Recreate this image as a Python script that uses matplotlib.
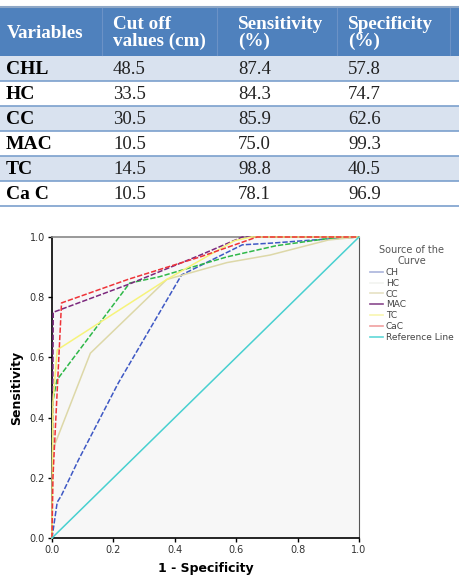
import matplotlib
matplotlib.use('Agg')
from matplotlib import pyplot as plt
from matplotlib.lines import Line2D
from matplotlib.patches import Rectangle

# table data
variables = ['CHL', 'HC', 'CC', 'MAC', 'TC', 'Ca C']
cutoffs = ['48.5', '33.5', '30.5', '10.5', '14.5', '10.5']
sensitivity = ['87.4', '84.3', '85.9', '75.0', '98.8', '78.1']
specificity = ['57.8', '74.7', '62.6', '99.3', '40.5', '96.9']
headers = ['Variables', 'Cut off\nvalues (cm)', 'Sensitivity\n(%)', 'Specificity\n(%)']

# ROC curves (1 - specificity, sensitivity)
ch_x = [0, 0.017, 0.03, 0.086, 0.216, 0.422, 0.62, 0.72, 0.85, 1.0]
ch_y = [0, 0.119, 0.14, 0.259, 0.515, 0.874, 0.974, 0.98, 0.99, 1.0]
hc_x = [0, 0.002, 0.016, 0.253, 0.35, 0.57, 0.73, 0.9, 1.0]
hc_y = [0, 0.45, 0.525, 0.847, 0.868, 0.934, 0.971, 0.995, 1.0]
cc_x = [0, 0.002, 0.125, 0.374, 0.57, 0.71, 0.9, 1.0]
cc_y = [0, 0.292, 0.614, 0.859, 0.915, 0.94, 0.99, 1.0]
mac_x = [0, 0.004, 0.007, 0.25, 0.483, 0.62, 1.0]
mac_y = [0, 0.75, 0.751, 0.843, 0.94, 1.0, 1.0]
tc_x = [0, 0.003, 0.017, 0.374, 0.595, 0.65, 1.0]
tc_y = [0, 0.45, 0.625, 0.859, 0.988, 1.0, 1.0]
cac_x = [0, 0.003, 0.031, 0.25, 0.483, 0.668, 1.0]
cac_y = [0, 0.2, 0.781, 0.86, 0.934, 1.0, 1.0]
ref_x = [0, 1]
ref_y = [0, 1]

curve_names = ['CH', 'HC', 'CC', 'MAC', 'TC', 'CaC', 'Reference Line']
curve_colors = ['#3e58c4', '#2eb848', '#ddd8a8', '#7c287d', '#f6f37a', '#ef3338', '#48d0d0']
legend_colors = ['#aab4dc', '#f2f4f0', '#e6e2c4', '#8a4a8e', '#f8f6b0', '#f0a0a0', '#60d8d8']
curve_styles = [(0, (3.5, 1.3)), (0, (3.5, 1.3)), '-', (0, (3.5, 1.3)), '-', (0, (3.5, 1.3)), '-']

fig = plt.figure(figsize=(4.59, 5.77), dpi=100)

# ---- table drawn in pixel coords ----
W, H = 459, 577
tab = fig.add_axes([0, 1 - 210 / H, 1, 210 / H])
tab.set_xlim(0, W)
tab.set_ylim(210, 0)
tab.axis('off')

head_blue = '#4f81bd'
light_row = '#d9e2ef'
line_blue = '#7ba0cd'
col_x = [7, 113, 238, 348]
serif = 'Liberation Serif'

tab.add_patch(Rectangle((0, 7), W, 49, facecolor=head_blue, edgecolor='none'))
tab.plot([0, W], [7, 7], color='#8ea7c6', lw=1.5)
for vx in [102, 217, 337, 450]:
    tab.plot([vx, vx], [8, 55], color='#6b92c6', lw=0.8)
for j, h in enumerate(headers):
    tab.text(col_x[j], 33, h, color='white', fontsize=13.8, fontweight='bold',
             family=serif, va='center', ha='left', linespacing=1.05)

row_h = 25
for i in range(len(variables)):
    y0 = 56 + i * row_h
    if i % 2 == 0:
        tab.add_patch(Rectangle((0, y0), W, row_h, facecolor=light_row, edgecolor='none'))
    tab.plot([0, W], [y0 + row_h, y0 + row_h], color=line_blue, lw=1.2)
    yc = y0 + row_h / 2 + 1
    tab.text(col_x[0] - 1, yc, variables[i], fontsize=14, fontweight='bold',
             family=serif, va='center', color='black')
    tab.text(col_x[1], yc, cutoffs[i], fontsize=13.5, family=serif, va='center', color='#222222')
    tab.text(col_x[2], yc, sensitivity[i], fontsize=13.5, family=serif, va='center', color='#222222')
    tab.text(col_x[3], yc, specificity[i], fontsize=13.5, family=serif, va='center', color='#222222')

# ---- ROC chart ----
ax = fig.add_axes([52 / W, 1 - 538 / H, 307 / W, 301 / H])
ax.set_facecolor('#f7f7f7')
xs = [ch_x, hc_x, cc_x, mac_x, tc_x, cac_x, ref_x]
ys = [ch_y, hc_y, cc_y, mac_y, tc_y, cac_y, ref_y]
for x, y, c, ls in zip(xs, ys, curve_colors, curve_styles):
    ax.plot(x, y, color=c, lw=1.1, linestyle=ls, clip_on=False, zorder=3)

ax.set_xlim(0, 1)
ax.set_ylim(0, 1)
ticks = [0.0, 0.2, 0.4, 0.6, 0.8, 1.0]
ax.set_xticks(ticks)
ax.set_yticks(ticks)
ax.set_xticklabels(['%.1f' % t for t in ticks], fontsize=7, color='#333333')
ax.set_yticklabels(['%.1f' % t for t in ticks], fontsize=7, color='#333333')
ax.tick_params(direction='out', length=3, width=1, color='black', pad=2)
ax.spines['left'].set_linewidth(1.2)
ax.spines['bottom'].set_linewidth(1.2)
ax.spines['top'].set_color('#888888')
ax.spines['top'].set_linewidth(1.2)
ax.spines['right'].set_color('#555555')
ax.spines['right'].set_linewidth(0.8)
ax.set_xlabel('1 - Specificity', fontsize=9, fontweight='bold', labelpad=5)
ax.set_ylabel('Sensitivity', fontsize=9, fontweight='bold', labelpad=5)

handles = [Line2D([0], [0], color=c, lw=1.2) for c in legend_colors]
leg = fig.legend(handles, curve_names, title='Source of the\nCurve',
                 loc='upper left', bbox_to_anchor=(366 / W, 1 - 241 / H),
                 frameon=False, fontsize=6.5, title_fontsize=7,
                 handlelength=1.5, handletextpad=0.3, labelspacing=0.2,
                 borderaxespad=0)
leg.get_title().set_color('#555555')
leg.get_title().set_multialignment('center')
for t in leg.get_texts():
    t.set_color('#444444')

fig.savefig('out.png', dpi=100)
